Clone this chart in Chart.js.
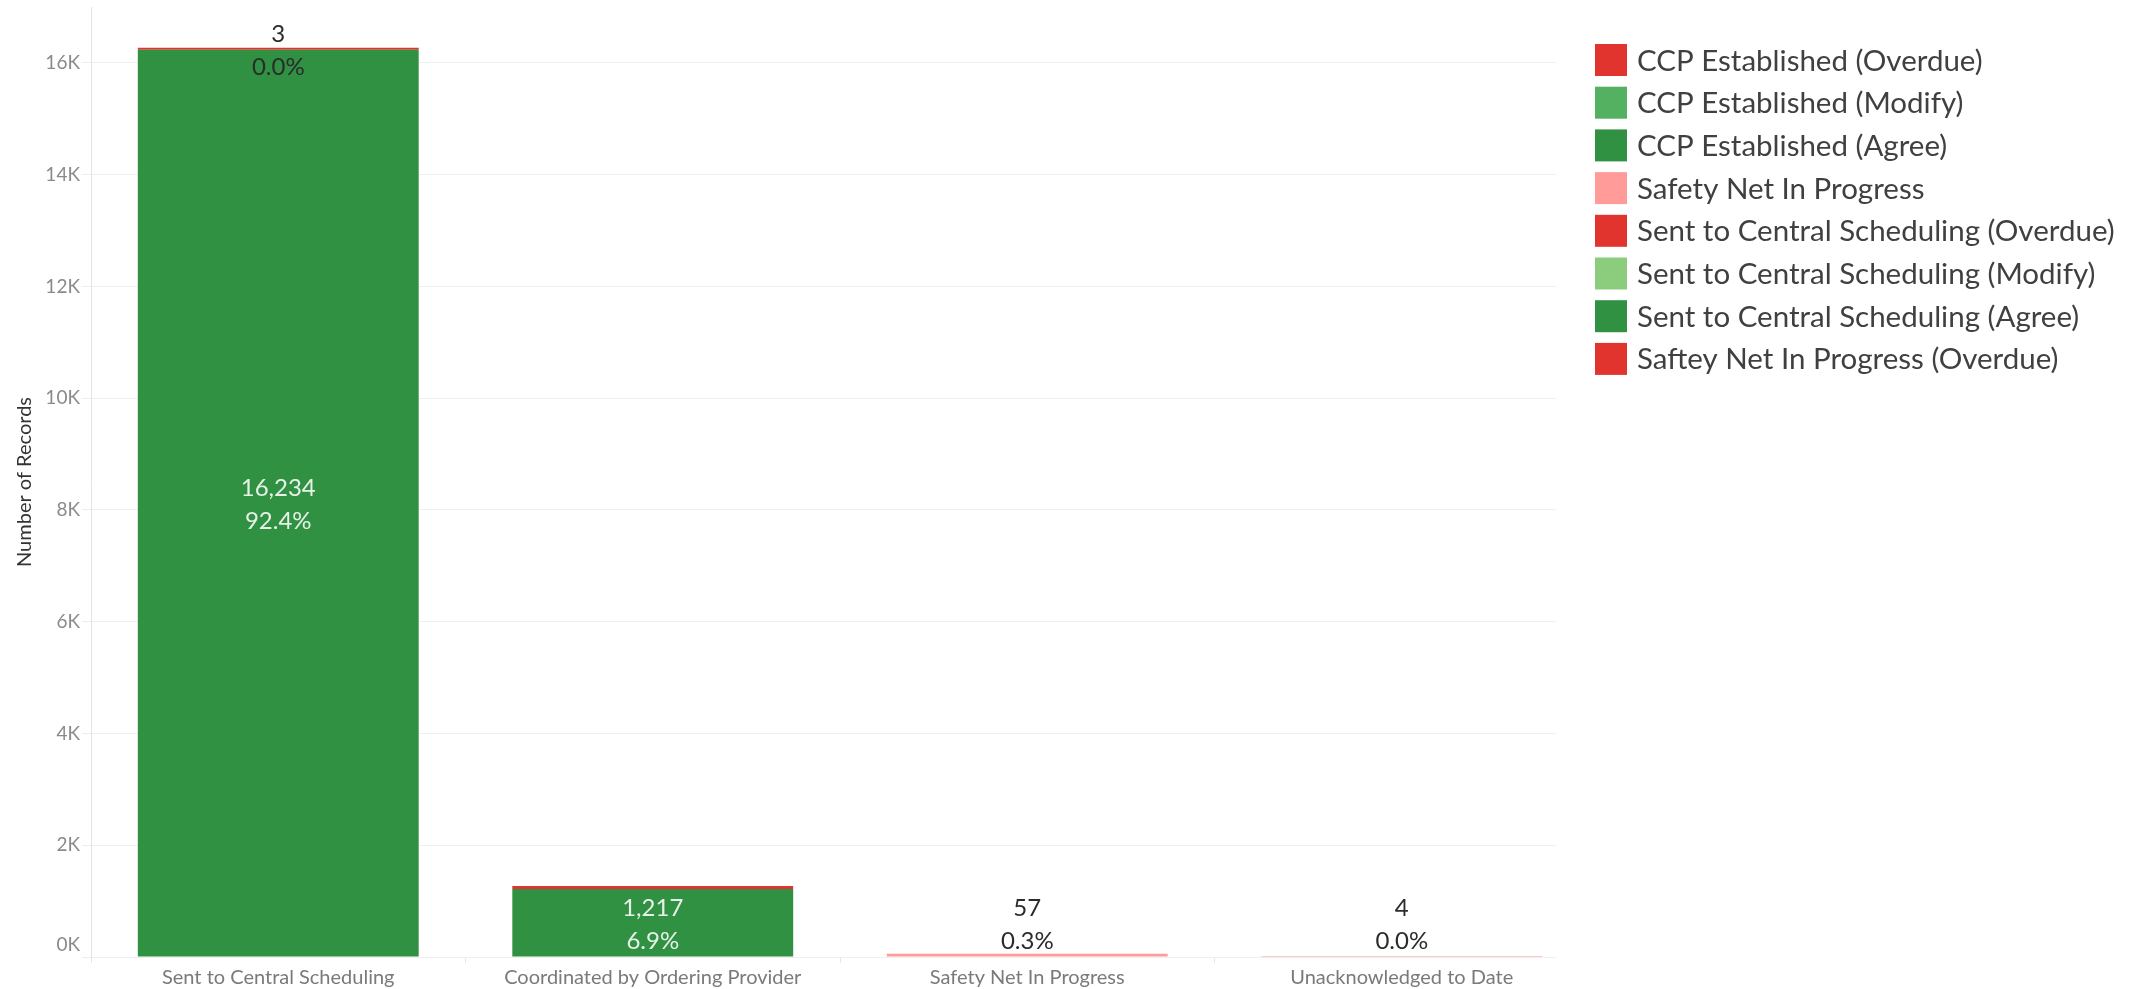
<!DOCTYPE html>
<html>
<head>
<meta charset="utf-8">
<script src="https://cdn.jsdelivr.net/npm/chart.js@4.4.1/dist/chart.umd.min.js"></script>
<style>
  html, body { margin: 0; padding: 0; background: #fff; }
  canvas { display: block; }
</style>
</head>
<body>
<canvas id="myChart" width="2149" height="989"></canvas>
<script>
const categories = ["Sent to Central Scheduling", "Coordinated by Ordering Provider", "Safety Net In Progress", "Unacknowledged to Date"];

// one array per status, one value per category (null = nothing there)
const sentAgree     = [16234, null, null, null];
const sentModify    = [null, null, null, null];
const sentOverdue   = [3, null, null, null];
const ccpAgree      = [null, 1217, null, null];
const ccpModify     = [null, null, null, null];
const ccpOverdue    = [null, 52, null, null];
const safetyNet     = [null, null, 57, null];
const safteyOverdue = [null, null, null, 4];

const yTickValues = [0, 2000, 4000, 6000, 8000, 10000, 12000, 14000, 16000];
const yTickLabels = ["0K", "2K", "4K", "6K", "8K", "10K", "12K", "14K", "16K"];

const legendOrder = [
  "CCP Established (Overdue)",
  "CCP Established (Modify)",
  "CCP Established (Agree)",
  "Safety Net In Progress",
  "Sent to Central Scheduling (Overdue)",
  "Sent to Central Scheduling (Modify)",
  "Sent to Central Scheduling (Agree)",
  "Saftey Net In Progress (Overdue)"
];

const colors = {
  "CCP Established (Overdue)": "#e1342f",
  "CCP Established (Modify)": "#53b161",
  "CCP Established (Agree)": "#309143",
  "Safety Net In Progress": "#ff9c99",
  "Sent to Central Scheduling (Overdue)": "#e1342f",
  "Sent to Central Scheduling (Modify)": "#8ccc7d",
  "Sent to Central Scheduling (Agree)": "#309143",
  "Saftey Net In Progress (Overdue)": "#e1342f"
};

// stacking order: first dataset sits at the bottom of the bar
const stackOrder = [
  ["Sent to Central Scheduling (Agree)", sentAgree],
  ["Sent to Central Scheduling (Modify)", sentModify],
  ["Sent to Central Scheduling (Overdue)", sentOverdue],
  ["CCP Established (Agree)", ccpAgree],
  ["CCP Established (Modify)", ccpModify],
  ["CCP Established (Overdue)", ccpOverdue],
  ["Safety Net In Progress", safetyNet],
  ["Saftey Net In Progress (Overdue)", safteyOverdue]
];

Chart.defaults.font.family = "Lato, 'Open Sans', sans-serif";

const darkLabel = "#2b2b2b";
const lightLabel = "rgba(255,255,255,0.88)";

// tableau stops drawing the grid a bit before the pane end, and the legend sits on the right
const clipAndLegend = {
  id: "clipAndLegend",
  beforeDraw(chart) {
    const ctx = chart.ctx;
    ctx.save();
    ctx.beginPath();
    ctx.rect(0, 0, 1556, chart.height);
    ctx.clip();
  },
  afterDatasetsDraw(chart) {
    const ctx = chart.ctx;
    const area = chart.chartArea;
    const yScale = chart.scales.y;

    // y tick labels, kept inside the pane like tableau does
    ctx.save();
    ctx.font = "19px Lato";
    ctx.fillStyle = "#8a8a8a";
    ctx.textAlign = "right";
    ctx.textBaseline = "middle";
    yTickValues.forEach((v, i) => {
      const py = Math.min(yScale.getPixelForValue(v), area.bottom - 12);
      ctx.fillText(yTickLabels[i], 80, py);
    });
    ctx.restore();

    // value + percent of total labels
    let total = 0;
    chart.data.datasets.forEach(ds => ds.data.forEach(v => { if (v != null) total += v; }));
    const placed = [];
    const lineGap = 33;
    ctx.save();
    ctx.font = "24px Lato";
    ctx.textAlign = "center";
    ctx.textBaseline = "middle";
    chart.data.datasets.forEach((ds, di) => {
      chart.getDatasetMeta(di).data.forEach((bar, i) => {
        const v = ds.data[i];
        if (v == null) return;
        const p = bar.getProps(["x", "y", "base"], true);
        let c = (p.y + p.base) / 2;
        c = Math.min(c, area.bottom - lineGap - 1);
        c = Math.max(c, area.top + lineGap);
        const box = { l: p.x - 70, r: p.x + 70, t: c - lineGap, b: c + lineGap };
        const hit = placed.some(o => o.l < box.r && box.l < o.r && o.t < box.b && box.t < o.b);
        if (hit) return;
        placed.push(box);
        const onBar = (p.base - p.y) >= 2 * lineGap;
        ctx.fillStyle = onBar && ds.lightText ? lightLabel : darkLabel;
        ctx.fillText(v.toLocaleString("en-US"), p.x, c - lineGap / 2 + 2);
        ctx.fillText((v / total * 100).toFixed(1) + "%", p.x, c + lineGap / 2 + 2);
      });
    });
    ctx.restore();
  },
  afterDraw(chart) {
    const ctx = chart.ctx;
    ctx.restore();

    ctx.save();
    ctx.font = "29.5px Lato";
    ctx.textBaseline = "middle";
    ctx.textAlign = "left";
    legendOrder.forEach((name, i) => {
      const top = 44 + i * 42.7;
      ctx.fillStyle = colors[name];
      ctx.fillRect(1595, top, 32, 32);
      ctx.fillStyle = "#404040";
      ctx.fillText(name, 1637, top + 17);
    });
    ctx.restore();
  }
};

const datasets = stackOrder.map(([name, values]) => ({
  label: name,
  data: values,
  backgroundColor: colors[name],
  borderWidth: 0,
  minBarLength: name === "Sent to Central Scheduling (Overdue)" ? 2 : 0,
  lightText: name.indexOf("(Agree)") > -1
}));

new Chart(document.getElementById("myChart"), {
  type: "bar",
  data: { labels: categories, datasets: datasets },
  plugins: [clipAndLegend],
  options: {
    responsive: false,
    animation: false,
    devicePixelRatio: 1,
    barPercentage: 0.75,
    categoryPercentage: 1,
    layout: { padding: { top: 7, right: 560, bottom: 0, left: 0 } },
    plugins: {
      legend: { display: false },
      tooltip: { enabled: false }
    },
    scales: {
      x: {
        stacked: true,
        grid: {
          display: true,
          drawOnChartArea: false,
          drawTicks: true,
          tickLength: 6,
          color: "#e6e6e6",
          offset: true
        },
        border: { display: false },
        ticks: {
          color: "#7a7a7a",
          font: { size: 20 },
          padding: 3,
          maxRotation: 0,
          autoSkip: false
        },
        afterFit(s) { s.height = 32; }
      },
      y: {
        stacked: true,
        min: 0,
        max: 17000,
        afterBuildTicks(s) { s.ticks = yTickValues.map(v => ({ value: v })); },
        grid: { color: "#efefef", tickLength: 9, drawTicks: true },
        border: { display: true, color: "#e3e3e3" },
        ticks: { display: false },
        title: {
          display: true,
          text: "Number of Records",
          color: "#333",
          font: { size: 20 },
          padding: { top: 13, bottom: 0 }
        },
        afterFit(s) { s.width = 91; }
      }
    }
  }
});
</script>
</body>
</html>
